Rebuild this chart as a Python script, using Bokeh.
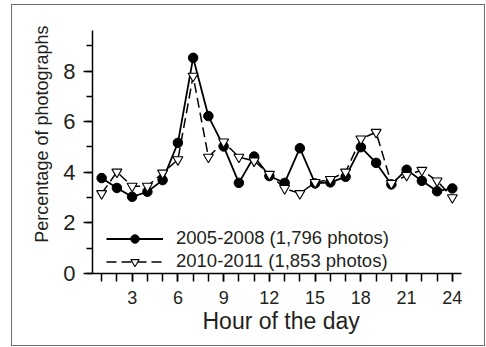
from bokeh.plotting import figure
from bokeh.models import Range1d, SingleIntervalTicker, Legend, LegendItem, Title
from bokeh.layouts import column
from bokeh.embed import file_html
from bokeh.resources import INLINE

hours = list(range(1, 25))
s2005 = [3.77, 3.38, 3.03, 3.23, 3.69, 5.16, 8.52, 6.22, 5.02, 3.58, 4.62, 3.85,
         3.58, 4.95, 3.56, 3.60, 3.82, 4.99, 4.37, 3.52, 4.10, 3.66, 3.25, 3.36]
s2010 = [3.16, 4.01, 3.45, 3.45, 3.97, 4.50, 7.80, 4.60, 5.20, 4.60, 4.45, 3.92,
         3.36, 3.16, 3.60, 3.72, 4.01, 5.32, 5.58, 3.56, 3.88, 4.08, 3.66, 3.00]
label2005 = "2005-2008 (1,796 photos)"
label2010 = "2010-2011 (1,853 photos)"
xlabel = "Hour of the day"
ylabel = "Percentage of photographs"

FONT = "Liberation Sans"
TXT = "#231f20"

p = figure(width=472, height=340, output_backend="svg", toolbar_location=None,
           x_range=Range1d(0.4, 24.6), y_range=Range1d(0, 9.6),
           min_border_left=80, min_border_right=23, min_border_top=25,
           min_border_bottom=72)
p.outline_line_color = None
p.grid.visible = False
p.background_fill_color = "white"
p.border_fill_color = "white"

# x axis
xa = p.xaxis[0]
xa.ticker = SingleIntervalTicker(interval=3, num_minor_ticks=3)
xa.major_tick_in = 0
xa.major_tick_out = 8
xa.minor_tick_in = 0
xa.minor_tick_out = 8
xa.major_tick_line_width = 1.5
xa.minor_tick_line_width = 1.5
xa.axis_line_width = 1.5
xa.major_label_text_font = FONT
xa.major_label_text_font_size = "18px"
xa.major_label_text_color = TXT
xa.major_label_standoff = 9

ya = p.yaxis[0]
ya.ticker = SingleIntervalTicker(interval=2, num_minor_ticks=2)
ya.major_tick_in = 0
ya.major_tick_out = 9
ya.minor_tick_in = 0
ya.minor_tick_out = 6
ya.major_tick_line_width = 1.5
ya.minor_tick_line_width = 1.5
ya.axis_line_width = 1.5
ya.major_label_text_font = FONT
ya.major_label_text_font_size = "22px"
ya.major_label_text_color = TXT
ya.major_label_standoff = 8
ya.major_label_orientation = "horizontal"

xtitle = Title(text=xlabel, align="left", offset=110, standoff=-1,
               text_font=FONT, text_font_style="normal", text_font_size="23px",
               text_color=TXT)
p.add_layout(xtitle, "below")
ytitle = Title(text=ylabel, align="right", offset=-5, standoff=17,
               text_font=FONT, text_font_style="normal", text_font_size="18px",
               text_color=TXT)
p.add_layout(ytitle, "left")

l1 = p.line(hours, s2005, line_color="black", line_width=1.8)
m1 = p.scatter(hours, s2005, marker="circle", size=9.5, fill_color="black",
               line_color="black")
l2 = p.line(hours, s2010, line_color="black", line_width=1.5, line_dash="10 5")
m2 = p.scatter(hours, s2010, marker="inverted_triangle", size=10,
               fill_color="white", line_color="black", line_width=1.1)

legend = Legend(items=[LegendItem(label=label2005, renderers=[l1, m1]),
                       LegendItem(label=label2010, renderers=[l2, m2])],
                location=(14, 1), orientation="vertical",
                glyph_width=57, glyph_height=21, label_height=21,
                label_standoff=13, spacing=1, padding=0, margin=0,
                border_line_alpha=0, background_fill_alpha=0,
                label_text_font=FONT, label_text_font_size="18.5px",
                label_text_color=TXT)
p.add_layout(legend, "center")

page = column(p, styles={"border": "1.5px solid #6d6d6d",
                         "margin-left": "11px", "margin-top": "4px"})

open("out.html", "w").write(file_html(page, INLINE))
